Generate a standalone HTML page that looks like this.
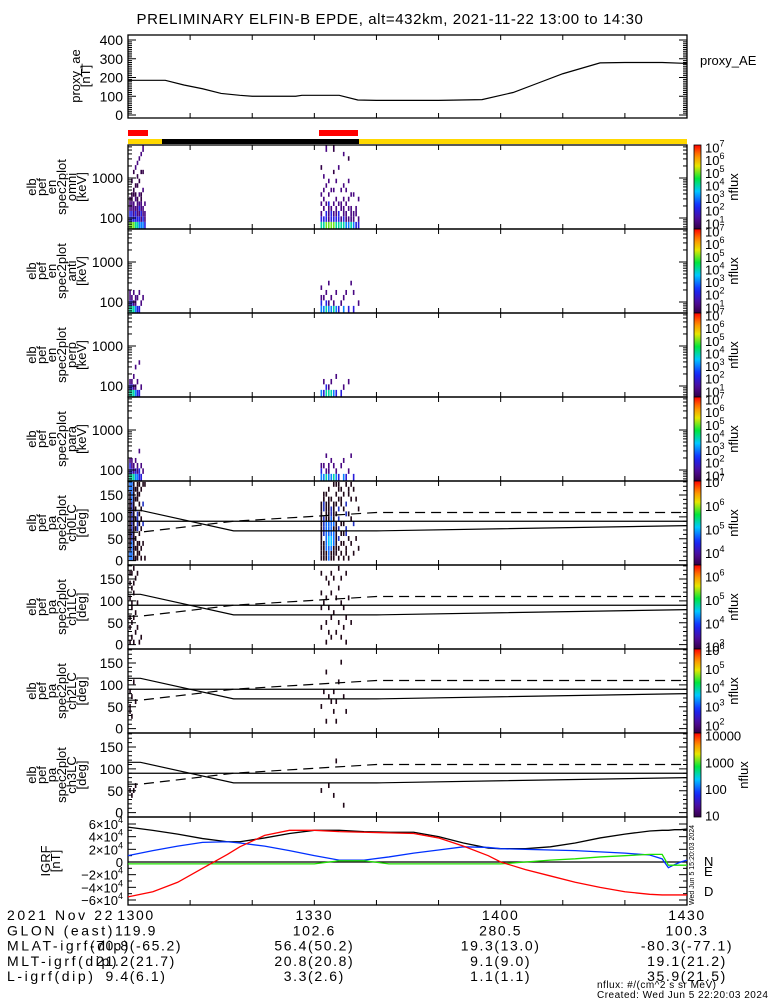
<!DOCTYPE html>
<html><head><meta charset="utf-8">
<style>
html,body{margin:0;padding:0;background:#fff;}
svg{display:block;}
text{font-family:"Liberation Sans",sans-serif;fill:#000;}
</style></head>
<body>
<svg id="c" width="775" height="1000" viewBox="0 0 775 1000" xmlns="http://www.w3.org/2000/svg">
<text x="390" y="24" font-size="15" text-anchor="middle" letter-spacing="0.6">PRELIMINARY ELFIN-B EPDE, alt=432km, 2021-11-22 13:00 to 14:30</text>
</svg>
<script>
// ---------- data ----------
const aeTimes=[0,6,9,12,15,18,20,27,28,34,37,40,50,57,62,66,70,76,80,86,90];
const aeVals=[185,185,160,140,115,105,100,100,105,105,80,78,78,82,120,170,220,278,280,280,275];
const igrfTimes=[0,4,8,12,16,18,22,26,30,34,38,42,46,50,54,58,60,64,68,72,76,80,84,86,87,88,89,90];
const igrfF=[55000,50000,44000,37000,32000,32000,38000,45000,50000,50000,48000,47000,47000,40000,30000,22000,21000,21000,24000,30000,38000,44000,49000,50000,50000,51000,51000,52000];
const igrfD=[-55000,-47000,-32000,-10000,12000,24000,42000,50000,50000,48000,47000,46000,45000,38000,25000,10000,0,-12000,-22000,-32000,-40000,-47000,-51000,-52000,-52000,-52000,-52000,-52000];
const igrfN=[10000,18000,25000,31000,32000,30000,25000,18000,10000,3000,3000,8000,14000,19000,24000,23000,21000,20000,19000,18000,16000,14000,11000,5000,-9000,-4000,0,3000];
const igrfE=[-3000,-3000,-3000,-3000,-3000,-3000,-3000,-3000,-3000,2000,2000,-3000,-3000,-3000,-3000,-3000,-3000,0,3000,5000,8000,10000,12000,12000,-5000,-5000,-5000,-5000];
const lcTimes=[0,2,17,40,90];
const lcVals=[115,115,68,68,80];
const alcVals=[65,65,90,110,110];
const xTickLabels=["1300","1330","1400","1430"];
const ephemRows=["2021 Nov 22","GLON (east)","MLAT-igrf(dip)","MLT-igrf(dip)","L-igrf(dip)"];
const ephemVals=[["1300","1330","1400","1430"],["119.9","102.6","280.5","100.3"],["-70.8(-65.2)","56.4(50.2)","19.3(13.0)","-80.3(-77.1)"],["21.2(21.7)","20.8(20.8)","9.1(9.0)","19.1(21.2)"],["9.4(6.1)","3.3(2.6)","1.1(1.1)","35.9(21.5)"]];
// spectrogram columns (time in minutes after 13:00); each string = log10 flux digits per bin from bottom (0 = no data)
const specTimesL=[0.2,0.5,0.8,1.1,1.4,1.7,2.0,2.3,2.6];
const specTimesR=[31.0,31.4,31.8,32.2,32.6,33.0,33.4,33.8,34.2,34.6,35.0,35.4,35.8,36.2,36.6,37.0];
const omniL=["53322100000000000","53322110010000000","53222011000100000","43320210100020000","43222100101002000","33232020010000200","32322110000100020","33220002000100002","22202000000000000"];
const omniR=["43202020000010000","43020202002000000","53302000200000002","52223020020000000","53320002000000000","53202002000100001","43220200020000000","43302000000020000","42022002000000000","43220200200000020","32202002000000000","32020200020000100","42220020000000000","32200020000000000","20220000000000000","22000200000000000"];
const antL=["43220000000000000","43200000000000000","42020000000000000","32200000000000000","20200000000000000","20020000000000000","02000000000000000","00200000000000000","00000000000000000"];
const antR=["33202000000000000","30200000000000000","43020000000000000","32000200000000000","30200000000000000","42000000000000000","30020000000000000","20000000000000000","02000000000000000","30200000000000000","00020000000000000","20000000000000000","00000200000000000","20020000000000000","00000000000000000","02000000000000000"];
const perpL=["43200000000000000","43200000000000000","42020000000000000","32000200000000000","20200000000000000","20000020000000000","02000000000000000","00000000000000000","00000000000000000"];
const perpR=["30000000000000000","20200000000000000","43000000000000000","42000000000000000","40200000000000000","30000000000000000","20020000000000000","00000000000000000","20000000000000000","02000000000000000","00000000000000000","00200000000000000","00000000000000000","00000000000000000","00000000000000000","00000000000000000"];
const paraL=["43320000000000000","43220000000000000","42200000000000000","33020000000000000","32200000000000000","23000200000000000","20200000000000000","02000000000000000","00000000000000000"];
const paraR=["33200000000000000","30200000000000000","42002000000000000","32200000000000000","30020000000000000","40200000000000000","32000000000000000","20000000000000000","00200000000000000","30020000000000000","20000000000000000","02000000000000000","00002000000000000","20000000000000000","00000000000000000","00000000000000000"];
// pitch-angle columns (16 bins of 11.25 deg), digits = log10 flux
const pa0L=["5544444444444455","5555444444445555","4444444444444444","4040404040404040","4444004444004444","0404040404040404","4040004040400040","0004000400040004","4000000000000004"];
const pa0R=["4444444444440000","4444044440444400","4455555544440400","5556655544444040","4456655554404000","4445554544440004","0444444404040404","4040404040404044","0404040400044040","4004040400400400","0440044004040004","4000400004000440","0004000040004004","0400000400000040","0000400000004000","0040000000400000"];
const pa1L=["4004040004004040","0400400440040040","4000040000404004","0040004000000400","0004000040000040","4000000000000000","0400000000000000","0000000000000000","0000000000000000"];
const pa1R=["0004000400400040","0000000040000000","4000400004000400","0040000400004000","0400040000400040","0000004000000400","0040000004000000","0000400000040004","0400000040000400","0004000400000000","4000040000000040","0000000004000000","0000400000000000","0000000000000000","0000000000000000","0000000000000000"];
const pa2L=["0004400400000000","0040004000000000","0000000004000000","0000040000000000","0000000000000000","0000000000000000","0000000000000000","0000000000000000","0000000000000000"];
const pa2R=["0000400000000000","0000000400000000","0400000000040000","0000004000000000","0000040000000000","0004000400000000","0400040000000000","0000000004000000","0000000000000400","0000004000000000","0004000000000000","0000000000000000","0000000000000000","0000000000000000","0000000000000000","0000000000000000"];
const pa3L=["0000400000000000","0004000000000000","0000400000000000","0000040000000000","0000000000000000","0000000000000000","0000000000000000","0000000000000000","0000000000000000"];
const pa3R=["0000400000000000","0000000000000000","0000000000000000","0000040000000000","0000000000000000","0004000000000000","0000000000400000","0000000000000000","0000000000000000","0400000000000000","0000000000000000","0000000000000000","0000000000000000","0000000000000000","0000000000000000","0000000000000000"];
const specEdges=[53,80,110,150,200,260,340,440,570,740,960,1250,1600,2100,2700,3500,4500,6700];
const cbLabelsSpec=["7","6","5","4","3","2","1"];
const cbLabelsPA0=["7","6","5","4"];
const cbLabelsPA1=["6","5","4","3"];
const cbLabelsPA2=["6","5","4","3","2"];
const cbLabelsPA3=["10000","1000","100","10"];

// ---------- helpers ----------
const svg=document.getElementById('c');
const NS='http://www.w3.org/2000/svg';
function mk(tag,attrs,parent){const e=document.createElementNS(NS,tag);for(const k in attrs)e.setAttribute(k,attrs[k]);(parent||svg).appendChild(e);return e;}
const X0=128,X1=687;
const xs=t=>X0+(t/90)*(X1-X0);
function rainbow(t){t=Math.max(0,Math.min(1,t));
  const stops=[[0,[50,0,70]],[0.12,[80,10,150]],[0.28,[20,40,255]],[0.45,[0,200,255]],[0.6,[0,230,60]],[0.75,[230,230,0]],[0.87,[255,140,0]],[1,[255,0,0]]];
  for(let i=1;i<stops.length;i++){if(t<=stops[i][0]){const a=stops[i-1],b=stops[i],f=(t-a[0])/(b[0]-a[0]);return 'rgb('+a[1].map((v,j)=>Math.round(v+(b[1][j]-v)*f)).join(',')+')';}}
  return 'rgb(255,0,0)';}
function vlabel(lines,x0,cy,step,g){lines.forEach((s,i)=>{const x=x0+i*step;const t=mk('text',{x:x,y:cy,'font-size':13,'text-anchor':'middle',transform:`rotate(-90 ${x} ${cy})`},g);t.textContent=s;});}
function xticks(top,bot,g){for(let m=0;m<=90;m+=10){const x=xs(m);mk('line',{x1:x,y1:bot,x2:x,y2:bot-5,stroke:'#000'},g);mk('line',{x1:x,y1:top,x2:x,y2:top+5,stroke:'#000'},g);}}
function frame(top,bot,g){mk('rect',{x:X0,y:top,width:X1-X0,height:bot-top,fill:'none',stroke:'#000','stroke-width':1.3},g);xticks(top,bot,g);}
function ytick(y,len,g){mk('line',{x1:X0,y1:y,x2:X0+len,y2:y,stroke:'#000'},g);mk('line',{x1:X1,y1:y,x2:X1-len,y2:y,stroke:'#000'},g);}
function ylab(y,s,g){const t=mk('text',{x:123,y:y+5,'font-size':14,'text-anchor':'end'},g);t.textContent=s;}
function colorbar(top,bot,labs,vmin,vmax,sup,g,name){
  const gid='grad'+top;const d=mk('defs',{},g);const lg=mk('linearGradient',{id:gid,x1:0,y1:1,x2:0,y2:0},d);
  for(let i=0;i<=20;i++)mk('stop',{offset:i/20,'stop-color':rainbow(i/20)},lg);
  const r=mk('rect',{x:694,y:top,width:7,height:bot-top,fill:`url(#${gid})`,stroke:'#000','stroke-width':0.8},g);
  
  
  labs.forEach(l=>{const v=sup?parseFloat(l):Math.log10(parseFloat(l));const y=bot-(v-vmin)/(vmax-vmin)*(bot-top);
    const t=mk('text',{x:705,y:y+5,'font-size':13},g);
    if(sup){t.textContent='10';const s=mk('tspan',{dy:-6,'font-size':9},t);s.textContent=l;}else t.textContent=l;});
  const cy=(top+bot)/2;const t=mk('text',{x:sup?738:748,y:cy,'font-size':13,'text-anchor':'middle',transform:`rotate(-90 ${sup?738:748} ${cy})`},g);t.textContent='nflux';}

// ---------- proxy AE ----------
(function(){const g=mk('g',{});
 const top=35,bot=118,ys=v=>115-v/400*75;
 for(let v=0;v<=400;v+=10)ytick(ys(v),v%100==0?8:4,g);
 frame(top,bot,g);
 [0,100,200,300,400].forEach(v=>ylab(ys(v),String(v),g));
 const pl=mk('polyline',{points:aeTimes.map((t,i)=>xs(t)+','+ys(aeVals[i])).join(' '),fill:'none',stroke:'#000','stroke-width':1.2},g);
 
 
 vlabel(['proxy_ae','[nT]'],80,76,10,g);
 const t=mk('text',{x:700,y:65,'font-size':13},g);t.textContent='proxy_AE';
})();
// ---------- status bars ----------
(function(){const g=mk('g',{});
 mk('rect',{x:128,y:130,width:20,height:6,fill:'#f00'},g);
 mk('rect',{x:319,y:130,width:39,height:6,fill:'#f00'},g);
 mk('rect',{x:128,y:139,width:559,height:5,fill:'#ffd800'},g);
 mk('rect',{x:162,y:139,width:197,height:5,fill:'#000'},g);
})();
// ---------- spectrograms ----------
function specPanel(top,name,label,colsL,colsR){
 const bot=top+84,g=mk('g',{});
 const ys=e=>top+73-40*(Math.log10(e)-2);
 [[specTimesL,colsL],[specTimesR,colsR]].forEach(([ts,cols])=>{cols.forEach((s,i)=>{for(let b=0;b<s.length;b++){const v=+s[b];if(!v)continue;
   const tcol=b==0?(v-0.5)/6.7:(v-1.4)/6.7;
   const c=mk('rect',{x:xs(ts[i]),y:ys(specEdges[b+1]),width:1.6,height:ys(specEdges[b])-ys(specEdges[b+1]),fill:rainbow(tcol)},g);
   
   }});});
 for(let d=10;d<=10000;d*=10)for(let k=1;k<10;k++){const y=ys(d*k);if(y<top||y>bot)continue;ytick(y,k==1?8:4,g);}
 frame(top,bot,g);
 ylab(ys(100),'100',g);ylab(ys(1000),'1000',g);
 vlabel(['elb','pef','en','spec2plot',label,'[keV]'],36,top+42,10,g);
 colorbar(top,bot,cbLabelsSpec,0.55,7.2,true,g,name+'-colorbar');
}
specPanel(145,'omni-spectrogram','omni',omniL,omniR);
specPanel(229,'anti-spectrogram','anti',antL,antR);
specPanel(313,'perp-spectrogram','perp',perpL,perpR);
specPanel(397,'para-spectrogram','para',paraL,paraR);
// ---------- pitch-angle ----------
function paPanel(top,name,ch,colsL,colsR,labs,vmin,vmax,sup){
 const bot=top+84,g=mk('g',{});
 const ys=d=>bot-(d+10)/192*84;
 [[specTimesL,colsL],[specTimesR,colsR]].forEach(([ts,cols])=>{cols.forEach((s,i)=>{for(let b=0;b<s.length;b++){const v=+s[b];if(!v)continue;
   const c=mk('rect',{x:xs(ts[i]),y:ys((b+1)*11.25),width:1.6,height:ys(0)-ys(11.25),fill:v>=5?rainbow(0.35+(v-5)*0.1):(ch==0&&b>3&&b<12&&i%3==1?'#2030c0':'#200818')},g);
   
   }});});
 for(let d=0;d<=180;d+=10)ytick(ys(d),d%50==0?8:4,g);
 frame(top,bot,g);
 [0,50,100,150].forEach(d=>ylab(ys(d),String(d),g));
 mk('line',{x1:X0,y1:ys(90),x2:X1,y2:ys(90),stroke:'#000','stroke-width':1.2},g);
 const lc=mk('polyline',{points:lcTimes.map((t,i)=>xs(t)+','+ys(lcVals[i])).join(' '),fill:'none',stroke:'#000','stroke-width':1.2},g);
 
 
 const alc=mk('polyline',{points:lcTimes.map((t,i)=>xs(t)+','+ys(alcVals[i])).join(' '),fill:'none',stroke:'#000','stroke-width':1.2,'stroke-dasharray':'10,6'},g);
 
 
 vlabel(['elb','pef','pa','spec2plot','ch'+ch+'LC','[deg]'],36,top+42,10,g);
 colorbar(top,bot,labs,vmin,vmax,sup,g,name+'-colorbar');
}
paPanel(481,'pa-ch0-panel',0,pa0L,pa0R,cbLabelsPA0,3.5,7.05,true);
paPanel(565,'pa-ch1-panel',1,pa1L,pa1R,cbLabelsPA1,2.9,6.5,true);
paPanel(649,'pa-ch2-panel',2,pa2L,pa2R,cbLabelsPA2,1.6,6.05,true);
paPanel(733,'pa-ch3-panel',3,pa3L,pa3R,cbLabelsPA3,0.95,4.1,false);
// ---------- IGRF ----------
(function(){const top=817,bot=905,g=mk('g',{});
 const ys=v=>862-v/60000*38;
 for(let v=-60000;v<=60000;v+=10000)ytick(ys(v),v%20000==0?8:4,g);
 frame(top,bot,g);
 mk('line',{x1:X0,y1:ys(0),x2:X1,y2:ys(0),stroke:'#000','stroke-width':1.2},g);
 [[igrfF,'#000','igrf-total'],[igrfN,'#0030ff','igrf-n'],[igrfE,'#20e000','igrf-e'],[igrfD,'#ff0000','igrf-d']].forEach(([a,c,n])=>{
   const p=mk('polyline',{points:igrfTimes.map((t,i)=>xs(t)+','+ys(a[i])).join(' '),fill:'none',stroke:c,'stroke-width':1.3},g);
   
   });
 [60000,40000,20000,0,-20000,-40000,-60000].forEach(v=>{const t=mk('text',{x:123,y:ys(v)+5,'font-size':13,'text-anchor':'end'},g);
   if(v==0)t.textContent='0';else{t.textContent=(v<0?'\u2212':'')+Math.abs(v/10000)+'\u00d710';const s=mk('tspan',{dy:-6,'font-size':9},t);s.textContent='4';}});
 vlabel(['IGRF','[nT]'],50,861,10,g);
 [['N','#0030ff',866],['E','#20e000',876],['D','#ff0000',896]].forEach(([s,c,y])=>{const t=mk('text',{x:704,y:y,'font-size':13,fill:c},g);t.textContent=s;});
 const w=mk('text',{x:694,y:905,'font-size':7,transform:'rotate(-90 694 905)'},g);w.textContent='Wed Jun  5 15:20:03 2024';
})();
// ---------- ephemeris ----------
(function(){const g=mk('g',{});
 const colX=[X0+8,xs(30),xs(60),X1];
 ephemRows.forEach((r,i)=>{const y=920+i*15.3;const t=mk('text',{x:7,y:y,'font-size':14,'letter-spacing':2.6},g);t.textContent=r;
  ephemVals[i].forEach((v,j)=>{const tt=mk('text',{x:colX[j],y:y,'font-size':14,'text-anchor':'middle','letter-spacing':1.6},g);tt.textContent=v;});});
 const a=mk('text',{x:597,y:988,'font-size':10,'letter-spacing':0.5},g);a.textContent='nflux: #/(cm^2 s sr MeV)';
 const b=mk('text',{x:597,y:998,'font-size':10,'letter-spacing':0.5},g);b.textContent='Created: Wed Jun  5 22:20:03 2024';
})();
</script>
</body></html>
